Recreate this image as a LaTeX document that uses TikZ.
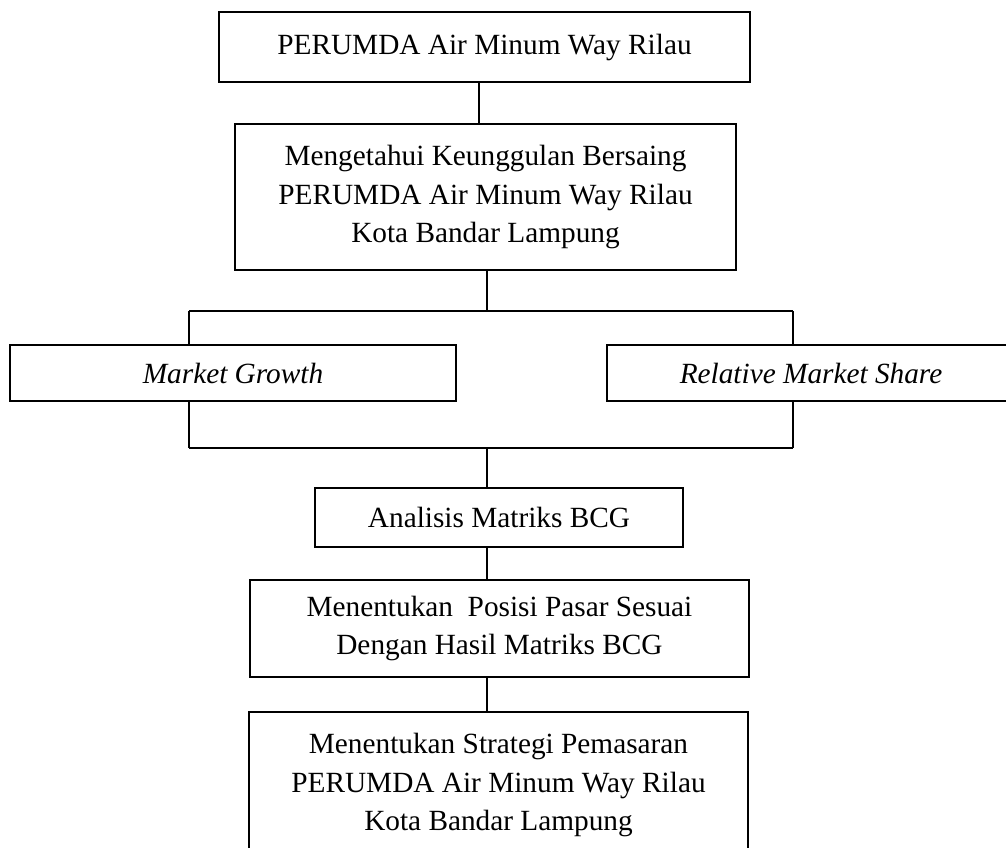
\documentclass[tikz,border=0pt]{standalone}
\usepackage{fontspec}
\setmainfont{Liberation Serif}
\begin{document}
\begin{tikzpicture}[x=1pt,y=-1pt,
  box/.style={draw, line width=1.6pt, align=center, inner sep=0pt, anchor=center,
    font=\fontsize{29.3}{38.5}\selectfont},
  conn/.style={line width=1.6pt}]
\useasboundingbox (0,0) rectangle (1006,848);
\clip (0,0) rectangle (1006,848);
\node[box, minimum width=531pt, minimum height=70pt] (top) at (484.5,47) {PERUMDA Air Minum Way Rilau};
\node[box, minimum width=501pt, minimum height=146pt] (b2) at (485.5,197) {Mengetahui Keunggulan Bersaing\\PERUMDA Air Minum Way Rilau\\Kota Bandar Lampung};
\node[box, minimum width=446pt, minimum height=56pt] (mg) at (233,373) {\itshape Market Growth};
\node[box, minimum width=408pt, minimum height=56pt] (rms) at (811,373) {\itshape Relative Market Share};
\node[box, minimum width=368pt, minimum height=59pt] (bcg) at (499,517.5) {Analisis Matriks BCG};
\node[box, minimum width=499pt, minimum height=97pt] (b5) at (499.5,628.5) {Menentukan\ \ Posisi Pasar Sesuai\\Dengan Hasil Matriks BCG};
\node[box, minimum width=499pt, minimum height=146pt] (b6) at (498.5,785) {Menentukan Strategi Pemasaran\\PERUMDA Air Minum Way Rilau\\Kota Bandar Lampung};
\coordinate (t1) at (479,82);
\coordinate (uL) at (189,311);
\coordinate (uR) at (793,311);
\coordinate (uC) at (487,311);
\coordinate (lL) at (189,448);
\coordinate (lR) at (793,448);
\coordinate (lC) at (487,448);
\draw[conn] (t1) -- (t1 |- b2.north);
\draw[conn] (uC |- b2.south) -- (uC);
\draw[conn] (uL) -- (uR);
\draw[conn] (uL) -- (uL |- mg.north);
\draw[conn] (uR) -- (uR |- rms.north);
\draw[conn] (uL |- mg.south) -- (lL);
\draw[conn] (uR |- rms.south) -- (lR);
\draw[conn] (lL) -- (lR);
\draw[conn] (lC) -- (lC |- bcg.north);
\draw[conn] (lC |- bcg.south) -- (lC |- b5.north);
\draw[conn] (lC |- b5.south) -- (lC |- b6.north);
\end{tikzpicture}
\end{document}
